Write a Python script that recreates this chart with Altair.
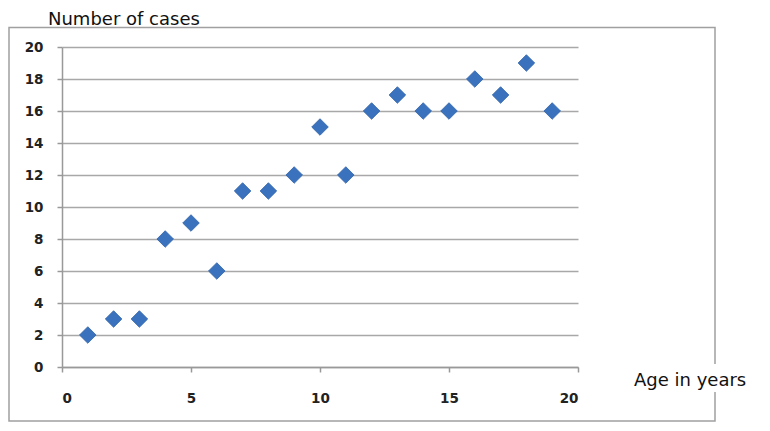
import altair as alt
import pandas as pd

ages = list(range(1, 20))
cases = [2, 3, 3, 8, 9, 6, 11, 11, 12, 15, 12, 16, 17, 16, 16, 18, 17, 19, 16]
y_ticks = list(range(0, 21, 2))
x_ticks = [0, 5, 10, 15, 20]
y_title = "Number of cases"
x_title = "Age in years"

df = pd.DataFrame({"age": ages, "cases": cases})

FONT = "DejaVu Sans"

points = alt.Chart(df).mark_point(
    shape="diamond", filled=True, size=275, color="#3A72BE", opacity=1,
    stroke="#2F62A8", strokeWidth=0.8
).encode(
    x=alt.X("age:Q", scale=alt.Scale(domain=[0, 20], nice=False),
            axis=alt.Axis(values=x_ticks, grid=False, title=None, domain=True,
                          domainColor="#999999", domainWidth=1.5,
                          tickColor="#999999", tickWidth=1.5, tickSize=5,
                          labelPadding=19, labelFontSize=13.5, labelFont=FONT,
                          labelFontWeight="bold", labelColor="#222222")),
    y=alt.Y("cases:Q", scale=alt.Scale(domain=[0, 20], nice=False),
            axis=alt.Axis(values=y_ticks, grid=True, gridColor="#A8A8A8", gridWidth=1.5,
                          title=None, domain=True, domainColor="#999999", domainWidth=1.5,
                          tickColor="#999999", tickWidth=1.5, tickSize=5,
                          labelPadding=14, labelFontSize=13.5, labelFont=FONT,
                          labelFontWeight="bold", labelColor="#222222")),
)

one = pd.DataFrame({"k": [0]})

frame = alt.Chart(one).mark_rect(fill="white", fillOpacity=0, stroke="#A0A0A0", strokeWidth=1.5).encode(
    x=alt.value(-53), x2=alt.value(653), y=alt.value(-19.5), y2=alt.value(374)
)

patch = alt.Chart(one).mark_rect(fill="white", stroke="white", strokeWidth=0).encode(
    x=alt.value(646), x2=alt.value(660), y=alt.value(317), y2=alt.value(345)
)

t_y = alt.Chart(pd.DataFrame({"t": [y_title]})).mark_text(
    align="left", baseline="alphabetic", font=FONT, fontSize=18, color="#111111"
).encode(text="t:N", x=alt.value(-14), y=alt.value(-22.5))

t_x = alt.Chart(pd.DataFrame({"t": [x_title]})).mark_text(
    align="left", baseline="alphabetic", font=FONT, fontSize=18, color="#111111"
).encode(text="t:N", x=alt.value(572), y=alt.value(339))

chart = alt.layer(frame, points, patch, t_y, t_x).properties(
    width=516, height=320,
    padding={"left": 54, "top": 39, "right": 182, "bottom": 56},
    autosize=alt.AutoSizeParams(type="none"),
).configure_view(strokeWidth=0)

chart.save("out.html", embed_options={"renderer": "svg", "actions": False})
